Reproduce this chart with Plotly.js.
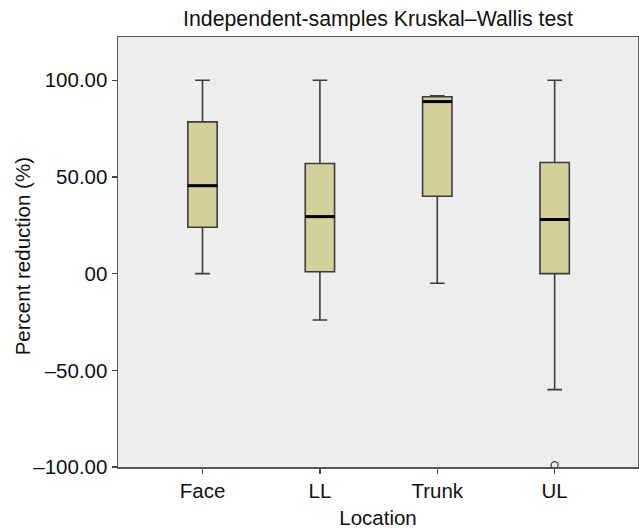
<!DOCTYPE html>
<html>
<head>
<meta charset="utf-8">
<script src="https://cdn.plot.ly/plotly-3.0.1.min.js"></script>
<style>html,body{margin:0;padding:0;background:#fff;}#chart{width:639px;height:529px;}</style>
</head>
<body>
<div id="chart"></div>
<script>
// Data
const categories = ["Face", "LL", "Trunk", "UL"];
const lowerWhisker = [0, -24, -5, -60];
const q1Values = [24, 1, 40, 0];
const medianValues = [45.5, 29.5, 89, 28];
const q3Values = [78.5, 57, 91.5, 57.5];
const upperWhisker = [100, 100, 92, 100];
const outlierCategory = ["UL"];
const outlierValues = [-99];
const yTickValues = [-100, -50, 0, 50, 100];
const yTickLabels = ["\u2013100.00", "\u201350.00", "00", "50.00", "100.00"];
const xTitle = "Location";
const yTitle = "Percent reduction (%)";
const chartTitle = "Independent-samples Kruskal\u2013Wallis test";

const xs = categories.map((c, i) => i);
const boxWidth = 0.25;

const boxTrace = {
  type: "box",
  x: xs,
  q1: q1Values,
  median: medianValues,
  q3: q3Values,
  lowerfence: lowerWhisker,
  upperfence: upperWhisker,
  width: boxWidth,
  whiskerwidth: 0.5,
  fillcolor: "#D3D09A",
  line: { color: "#3d3d3d", width: 1.6 },
  boxpoints: false,
  hoverinfo: "skip",
  showlegend: false
};

const medX = [], medY = [];
xs.forEach((x, i) => {
  medX.push(x - boxWidth / 2, x + boxWidth / 2, null);
  medY.push(medianValues[i], medianValues[i], null);
});
const medianTrace = {
  type: "scatter", mode: "lines", x: medX, y: medY,
  line: { color: "#000000", width: 3 }, showlegend: false, hoverinfo: "skip"
};

const outlierTrace = {
  type: "scatter", mode: "markers",
  x: outlierCategory.map(c => categories.indexOf(c)),
  y: outlierValues,
  marker: { symbol: "circle-open", size: 7, color: "#444444", line: { width: 1.3 } },
  cliponaxis: false, showlegend: false, hoverinfo: "skip"
};

const font = { family: "Liberation Sans, Arial, sans-serif", size: 20.5, color: "#111111" };

const layout = {
  width: 639, height: 529,
  margin: { l: 118, r: 1, t: 37, b: 62 },
  paper_bgcolor: "#ffffff",
  plot_bgcolor: "#EEEDED",
  font: font,
  showlegend: false,
  title: {
    text: chartTitle,
    font: { family: font.family, size: 21.3, color: "#111111" },
    xref: "paper", x: 0.5, xanchor: "center",
    yref: "container", y: 0.965, yanchor: "middle"
  },
  xaxis: {
    range: [-0.72, 3.71],
    tickmode: "array",
    tickvals: xs,
    ticktext: categories,
    ticks: "outside", ticklen: 5, tickcolor: "#444444", tickwidth: 1.3,
    showline: true, linecolor: "#555555", linewidth: 1.5, mirror: true,
    showgrid: false, zeroline: false,
    tickfont: font,
    title: { text: xTitle, font: font, standoff: 10 }
  },
  yaxis: {
    range: [-100, 122.4],
    tickmode: "array",
    tickvals: yTickValues,
    ticktext: yTickLabels,
    ticks: "outside", ticklen: 5, tickcolor: "#444444", tickwidth: 1.3,
    showline: true, linecolor: "#555555", linewidth: 1.5, mirror: true,
    showgrid: false, zeroline: false,
    tickfont: font
  },
  annotations: [{
    text: yTitle, textangle: -90, showarrow: false,
    xref: "paper", x: 0, xanchor: "center", xshift: -96,
    yref: "paper", y: 0.49, yanchor: "middle",
    font: font
  }]
};

Plotly.newPlot("chart", [boxTrace, medianTrace, outlierTrace], layout, { displayModeBar: false, staticPlot: true });
</script>
</body>
</html>
